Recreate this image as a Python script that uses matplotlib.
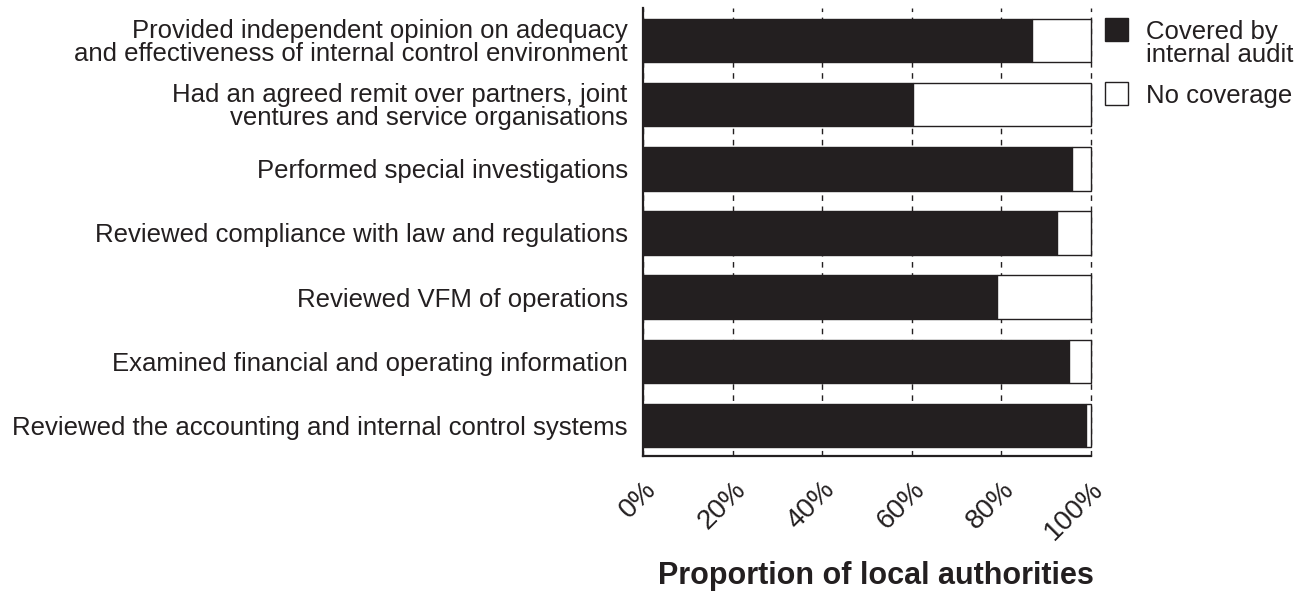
import matplotlib.pyplot as plt
from matplotlib.patches import Rectangle
from matplotlib.ticker import PercentFormatter

plt.rcParams['font.family'] = ['Liberation Sans', 'DejaVu Sans']

# activities, listed bottom to top
activities = [
    "Reviewed the accounting and internal control systems",
    "Examined financial and operating information",
    "Reviewed VFM of operations",
    "Reviewed compliance with law and regulations",
    "Performed special investigations",
    "Had an agreed remit over partners, joint\nventures and service organisations",
    "Provided independent opinion on adequacy\nand effectiveness of internal control environment",
]
covered = [98.9, 95.3, 79.1, 92.5, 95.8, 60.3, 87.0]
no_coverage = [100 - c for c in covered]
x_ticks = [0, 20, 40, 60, 80, 100]
legend_labels = ["Covered by\ninternal audit", "No coverage"]

ink = '#231f20'
W, H = 1311, 606

fig = plt.figure(figsize=(W / 100, H / 100), dpi=100)
ax = fig.add_axes([643 / W, 1 - 456 / H, 447.5 / W, 448 / H])

ypos = range(len(activities))
ax.barh(ypos, covered, height=0.675, color=ink, edgecolor=ink, linewidth=1,
        zorder=3, clip_on=False)
ax.barh(ypos, no_coverage, left=covered, height=0.675, color='white',
        edgecolor=ink, linewidth=1, zorder=3, clip_on=False)

ax.set_xlim(0, 100)
ax.set_ylim(-0.48, 6.51)
ax.set_xticks(x_ticks)
ax.xaxis.set_major_formatter(PercentFormatter(decimals=0))
ax.grid(axis='x', color=ink, linestyle=(0, (4, 4)), linewidth=1, zorder=0)
for gl in ax.get_xgridlines():
    gl.set_clip_on(False)

ax.set_yticks(list(ypos))
ax.set_yticklabels(activities, fontsize=18.5, color=ink, linespacing=0.95)
ax.tick_params(axis='y', length=0, pad=11)
ax.tick_params(axis='x', length=0, pad=15, labelsize=20, labelcolor=ink)
for lab in ax.get_xticklabels():
    lab.set_rotation(45)
    lab.set_rotation_mode('anchor')
    lab.set_ha('right')
    lab.set_va('top')

for side in ['top', 'right']:
    ax.spines[side].set_visible(False)
for side in ['left', 'bottom']:
    ax.spines[side].set_color(ink)
    ax.spines[side].set_linewidth(1.6)

ax.set_xlabel("Proportion of local authorities", fontsize=22, fontweight='bold',
              color=ink)
ax.xaxis.set_label_coords(0.521, -0.234)

# legend: swatch beside the first line of each label
legend_colors = [ink, 'white']
swatch_tops = [18, 82]
for color, top, label in zip(legend_colors, swatch_tops, legend_labels):
    fig.add_artist(Rectangle((1105 / W, 1 - (top + 23) / H), 23 / W, 23 / H,
                             facecolor=color, edgecolor=ink, linewidth=1,
                             transform=fig.transFigure))
    fig.text(1146 / W, 1 - (top + 2) / H, label, fontsize=18.5, color=ink,
             ha='left', va='top', linespacing=0.95)

fig.savefig('out.png', dpi=100)
